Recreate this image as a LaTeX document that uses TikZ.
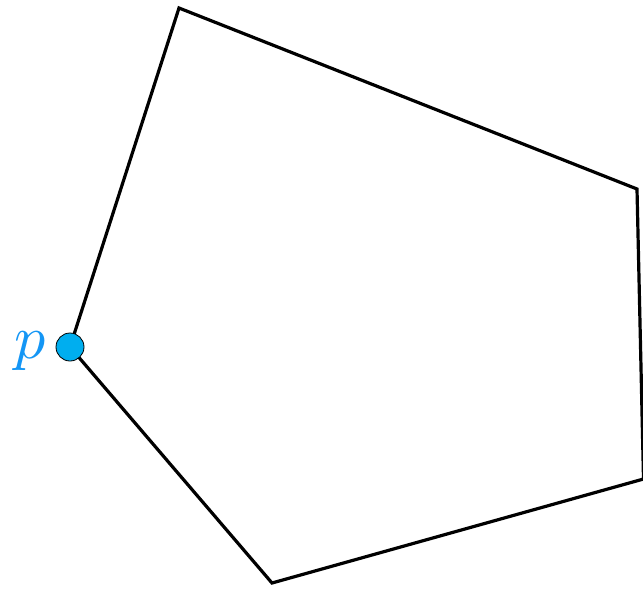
\documentclass[tikz,border=0pt]{standalone}
\usepackage{graphicx}
\usepackage{tikz}
\definecolor{ptfill}{RGB}{0,174,239}
\definecolor{ptlabel}{RGB}{20,150,245}
\tikzset{
  edge/.style={line width=3.2pt, black, line join=miter},
  ptdot/.style={circle, draw=black, line width=0.8pt, fill=ptfill, minimum size=28pt, inner sep=0pt},
  ptlab/.style={text=ptlabel, inner sep=0pt}
}
\begin{document}
\begin{tikzpicture}[x=1pt,y=-1pt]
  \useasboundingbox (0,0) rectangle (643,590);
  \clip (0,0) rectangle (643,590);
  \coordinate (top) at (179,8);
  \coordinate (tr) at (637,189);
  \coordinate (br) at (643.5,479);
  \coordinate (bot) at (272,583);
  \coordinate (pp) at (70,347);
  \draw[edge] (pp) -- (top) -- (tr) -- (br) -- (bot) -- cycle;
  \node[ptdot] (p) at (pp) {};
  \node[ptlab, anchor=east] (plabel) at (46,351) {\scalebox{6.2}{$p$}};
\end{tikzpicture}
\end{document}
